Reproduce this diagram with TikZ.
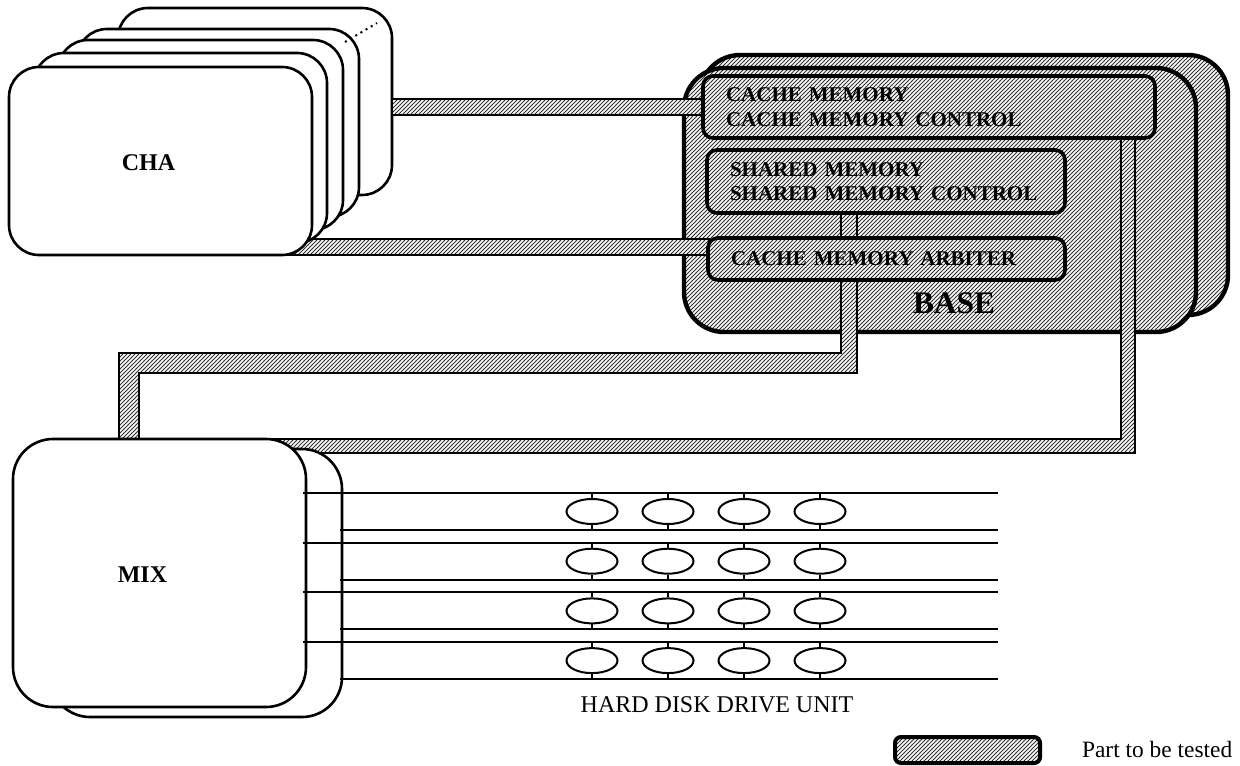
\documentclass[tikz,border=0pt]{standalone}
\usepackage{fontspec}
\setmainfont{Liberation Serif}
\usetikzlibrary{patterns.meta, shapes.geometric}

\tikzdeclarepattern{
  name=testhatch,
  type=uncolored,
  bounding box={(-0.1pt,-0.1pt) and (2.1pt,2.1pt)},
  tile size={(2pt,2pt)},
  code={\draw[line width=0.45pt] (-0.1pt,-0.1pt) -- (2.1pt,2.1pt);}
}

\begin{document}
\begin{tikzpicture}[x=0.5pt, y=-0.5pt,
  tested/.style={preaction={fill=white}, pattern={testhatch}, pattern color=black!80},
  chabox/.style={draw, fill=white, line width=1.3pt, rounded corners=15pt},
  mixbox/.style={draw, fill=white, line width=1.3pt, rounded corners=20pt},
  basebox/.style={tested, draw, line width=2.2pt, rounded corners=20pt},
  unitbox/.style={tested, draw, line width=1.8pt, rounded corners=5pt, rectangle, align=left,
    inner xsep=11.5pt, inner ysep=0pt, font=\fontsize{10.5}{12.3}\selectfont\bfseries},
  busband/.style={tested, draw, line width=0.8pt},
  hddline/.style={line width=1pt},
  disk/.style={ellipse, draw, line width=1pt, fill=white, minimum width=25.5pt,
    minimum height=12.5pt, inner sep=0pt},
  lbl/.style={font=\fontsize{12}{14}\selectfont\bfseries}
]
\useasboundingbox (0,0) rectangle (1240,765);

% BASE
\draw[basebox] (700,55) rectangle (1228,315);
\draw[basebox] (684,68) rectangle (1196,332);

% CHA boards
\draw[busband] (238,239) rectangle (709,255);
\draw[chabox] (118,8) rectangle (392,195);
\draw[chabox] (77,29) rectangle (359,217);
\draw[chabox] (58,40) rectangle (343,230);
\draw[chabox] (34,53) rectangle (327,243);
\node[chabox, minimum width=151.5pt, minimum height=94pt] (cha) at (160.5,161) {};
\node[lbl] (chalabel) at (148.5,162.5) {CHA};
\draw[dotted, line width=1pt] (345,42) -- (377,23);

% buses
\draw[busband] (392,99) rectangle (703,115);
\draw[busband] (841,213) rectangle (857,238);
\draw[busband] (841,280) -- (841,353) -- (119,353) -- (119,439) -- (139,439)
  -- (139,373) -- (857,373) -- (857,280) -- cycle;
\draw[busband] (1121,138) -- (1121,439) -- (250,439) -- (250,453) -- (1135,453)
  -- (1135,138) -- cycle;

% units inside BASE
\node[unitbox, minimum width=226pt, minimum height=31pt, text width=203pt] (cache) at (929,107)
  {CACHE MEMORY\\CACHE MEMORY CONTROL};
\node[unitbox, minimum width=179pt, minimum height=31.5pt, text width=156pt] (shared) at (886,181.5)
  {SHARED MEMORY\\SHARED MEMORY CONTROL};
\node[unitbox, minimum width=178.5pt, minimum height=21pt, text width=155.5pt] (arbiter) at (886.5,259)
  {CACHE MEMORY ARBITER};
\node[font=\fontsize{15.7}{18}\selectfont\bfseries, anchor=base] (baselabel) at (954,313) {BASE};

% MIX
\draw[mixbox] (50,449) rectangle (342,717);
\node[mixbox, minimum width=146.5pt, minimum height=134pt] (mix) at (159.5,573) {};
\node[lbl] (mixlabel) at (142.5,575) {MIX};

% hard disk drives
\foreach \r in {1,...,4}{
  \pgfmathsetmacro{\yu}{493+(\r-1)*49.7}
  \pgfmathsetmacro{\yl}{\yu+37}
  \coordinate (up\r) at (303,\yu);
  \coordinate (lo\r) at (340,\yl);
  \draw[hddline] (up\r) -- (998,\yu);
  \draw[hddline] (lo\r) -- (998,\yl);
  \foreach \c in {1,...,4}{
    \node[disk] (disk\r\c) at ({592+76*(\c-1)},{\yu+18.5}) {};
    \draw[hddline] (disk\r\c.north) -- (disk\r\c.north |- up\r);
    \draw[hddline] (disk\r\c.south) -- (disk\r\c.south |- lo\r);
  }
}
\node[font=\fontsize{12}{14}\selectfont, anchor=base] (hddlabel) at (717,712) {HARD DISK DRIVE UNIT};

% legend
\node[tested, draw, line width=2pt, rounded corners=3pt, minimum width=72.5pt,
  minimum height=13pt, inner sep=0pt] (legendkey) at (967.5,750) {};
\node[font=\fontsize{11.7}{14}\selectfont, anchor=base west] (legendtext) at (1075,757) {Part to be tested};
\end{tikzpicture}
\end{document}
